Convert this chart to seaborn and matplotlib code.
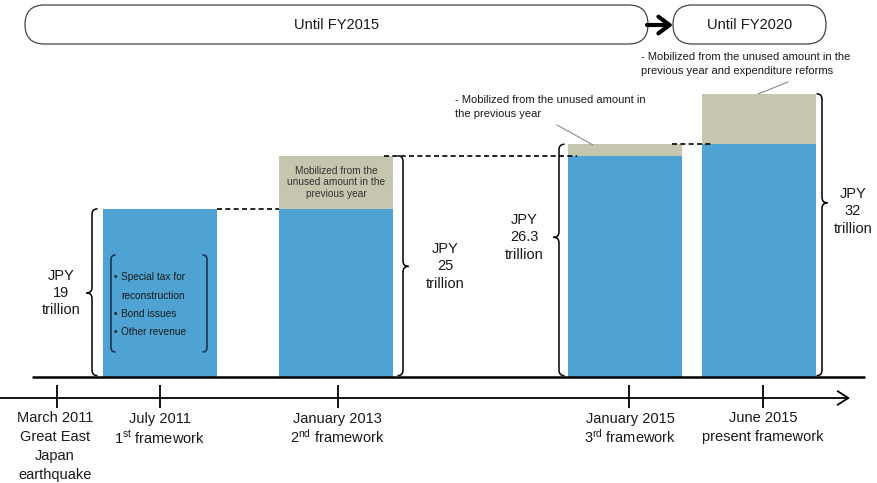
import numpy as np
import pandas as pd
import matplotlib
matplotlib.use("Agg")
import matplotlib.pyplot as plt
import seaborn as sns
from matplotlib.path import Path
from matplotlib.patches import PathPatch, FancyBboxPatch

# ---------------------------------------------------------------- data
frameworks = ["1st", "2nd", "3rd", "present"]
base_budget = [19, 19, 25, 26.3]        # amount carried over from the previous framework
framework_total = [19, 25, 26.3, 32]    # size of each framework, JPY trillion

timeline_labels = [
    "March 2011\nGreat East\nJapan\nearthquake",
    "July 2011\n1$^{\\mathrm{st}}$ framework",
    "January 2013\n2$^{\\mathrm{nd}}$ framework",
    "January 2015\n3$^{\\mathrm{rd}}$ framework",
    "June 2015\npresent framework",
]
period_labels = ["Until FY2015", "Until FY2020"]
funding_lines = ["Special tax for", "reconstruction", "Bond issues", "Other revenue"]
funding_bullets = [True, False, True, True]
top_up_notes = [
    "Mobilized from the\nunused amount in the\nprevious year",
    "- Mobilized from the unused amount in\nthe previous year",
    "- Mobilized from the unused amount in the\nprevious year and expenditure reforms",
]

# -------------------------------------------------------------- layout
W, H = 878, 483
BASE_PX = 377          # pixel row of the zero line
PX = 8.85              # pixels per trillion yen
bar_centers = [160, 336, 625, 759]
bar_w = 114
tick_x = [57, 160, 338, 629, 763]
label_x = [55, 160, 337, 630, 763]

brace_x = [92, 403, 559, 822]
brace_side = [-1, 1, -1, 1]
brace_tip_frac = [0.5, 0.5, 0.6, 0.615]
value_label_x = [61, 445, 524, 853]
value_label_frac = [0.5, 0.5, 0.6, 0.585]

BLUE = "#4FA3D2"
GREY = "#C6C6AF"
INK = "#1a1a1a"

sns.set_theme(style="white")
plt.rcParams["font.family"] = ["Liberation Sans", "DejaVu Sans"]
plt.rcParams["mathtext.fontset"] = "custom"
plt.rcParams["mathtext.rm"] = "Liberation Sans"
plt.rcParams["mathtext.it"] = "Liberation Sans:italic"
plt.rcParams["mathtext.bf"] = "Liberation Sans:bold"

fig = plt.figure(figsize=(W / 100, H / 100), dpi=100)
fig.patch.set_facecolor("white")

# main axes: x in layout units, y in JPY trillion
ax = fig.add_axes([0, 0, 1, 1])
df = pd.DataFrame({"x": bar_centers, "total": framework_total, "base": base_budget})
rel_w = bar_w / np.min(np.diff(bar_centers))
sns.barplot(data=df, x="x", y="total", native_scale=True, width=rel_w, color=GREY,
            saturation=1, linewidth=0, errorbar=None, ax=ax, zorder=2)
sns.barplot(data=df, x="x", y="base", native_scale=True, width=rel_w, color=BLUE,
            saturation=1, linewidth=0, errorbar=None, ax=ax, zorder=3)
ax.set_xlim(0, W)
ax.set_ylim(-(H - BASE_PX) / PX, BASE_PX / PX)
ax.axis("off")

# zero line under the bars
ax.plot([32, 865], [0, 0], color="black", lw=1.8, zorder=6, solid_capstyle="butt")

# dashed connectors from each framework to the next
overlap = [0, 9, 10]
for i in range(len(framework_total) - 1):
    x0 = bar_centers[i] + bar_w / 2 - overlap[i]
    x1 = bar_centers[i + 1] - bar_w / 2 + overlap[i]
    ax.plot([x0, x1], [framework_total[i]] * 2, color="black", lw=1.2,
            dashes=(3.0, 2.0), zorder=7)


def brace(axis, x, y0, y1, ytip, side, r=5.5, lw=1.1):
    ry = r / PX
    s = side
    verts = [
        (x - s * r, y1), (x, y1), (x, y1 - ry),
        (x, ytip + ry),
        (x, ytip), (x + s * r, ytip),
        (x, ytip), (x, ytip - ry),
        (x, y0 + ry),
        (x, y0), (x - s * r, y0),
    ]
    codes = [Path.MOVETO, Path.CURVE3, Path.CURVE3, Path.LINETO,
             Path.CURVE3, Path.CURVE3, Path.CURVE3, Path.CURVE3,
             Path.LINETO, Path.CURVE3, Path.CURVE3]
    axis.add_patch(PathPatch(Path(verts, codes), fill=False, ec="black", lw=lw, zorder=8))


for i, tot in enumerate(framework_total):
    brace(ax, brace_x[i], 0.15, tot, tot * brace_tip_frac[i], brace_side[i])
    ax.text(value_label_x[i], tot * value_label_frac[i], f"JPY\n{tot:g}\ntrillion",
            ha="center", va="center", fontsize=10.5, color=INK, linespacing=1.3, zorder=9)

# note inside the grey top-up of the 2nd framework
ax.text(bar_centers[1], (base_budget[1] + framework_total[1]) / 2, top_up_notes[0],
        ha="center", va="center", fontsize=7.3, color="#333333", linespacing=1.2, zorder=9)

# overlay axes in pixel units for the surrounding layout
ov = fig.add_axes([0, 0, 1, 1], facecolor="none")
ov.set_xlim(0, W)
ov.set_ylim(H, 0)
ov.axis("off")

# period boxes
for (x0, x1), lab in zip([(25, 648), (673, 826)], period_labels):
    ov.add_patch(FancyBboxPatch((x0, 5), x1 - x0, 39, boxstyle="round,pad=0,rounding_size=19.5",
                                fc="white", ec="#444444", lw=0.9))
    ov.text((x0 + x1) / 2, 25, lab, ha="center", va="center", fontsize=10.5, color=INK)
ov.annotate("", xy=(673, 25), xytext=(647, 25),
            arrowprops=dict(arrowstyle="->,head_length=0.4,head_width=0.3", lw=3,
                            color="black", mutation_scale=20, shrinkA=0, shrinkB=0))

# call-outs for the grey top-ups
ov.text(455, 95, top_up_notes[1], ha="left", va="top", fontsize=8, color=INK, linespacing=1.5)
ov.plot([557, 593], [125, 145], color="#8a8a8a", lw=0.8)
ov.text(641, 52, top_up_notes[2], ha="left", va="top", fontsize=8, color=INK, linespacing=1.5)
ov.plot([788, 758], [82, 94], color="#8a8a8a", lw=0.8)


# funding sources of the 1st framework, in rounded brackets
def bracket(axis, x, y0, y1, side, r=4.5):
    verts = [(x + side * r, y0), (x, y0), (x, y0 + r), (x, y1 - r), (x, y1), (x + side * r, y1)]
    codes = [Path.MOVETO, Path.CURVE3, Path.CURVE3, Path.LINETO, Path.CURVE3, Path.CURVE3]
    axis.add_patch(PathPatch(Path(verts, codes), fill=False, ec="#1B3550", lw=1.2))


bracket(ov, 111, 255, 352, 1)
bracket(ov, 207, 255, 352, -1)
for yy, line, bul in zip([277, 296, 314, 332], funding_lines, funding_bullets):
    if bul:
        ov.text(113.5, yy, "•", ha="left", va="center", fontsize=7, color=INK)
    ov.text(121, yy, line, ha="left", va="center", fontsize=7.3, color=INK)

# timeline
ov.annotate("", xy=(850, 398), xytext=(0, 398),
            arrowprops=dict(arrowstyle="->,head_length=0.55,head_width=0.35", lw=1.3,
                            color="black", mutation_scale=14, shrinkA=0, shrinkB=0))
ov.vlines(tick_x, 385, 408, color="black", lw=1.3)
for x, lab in zip(label_x, timeline_labels):
    for k, line in enumerate(lab.split("\n")):
        ov.text(x, 417 + 18.7 * k, line, ha="center", va="center_baseline", fontsize=10.5,
                color=INK)

fig.savefig("out.png", dpi=100, facecolor="white")
